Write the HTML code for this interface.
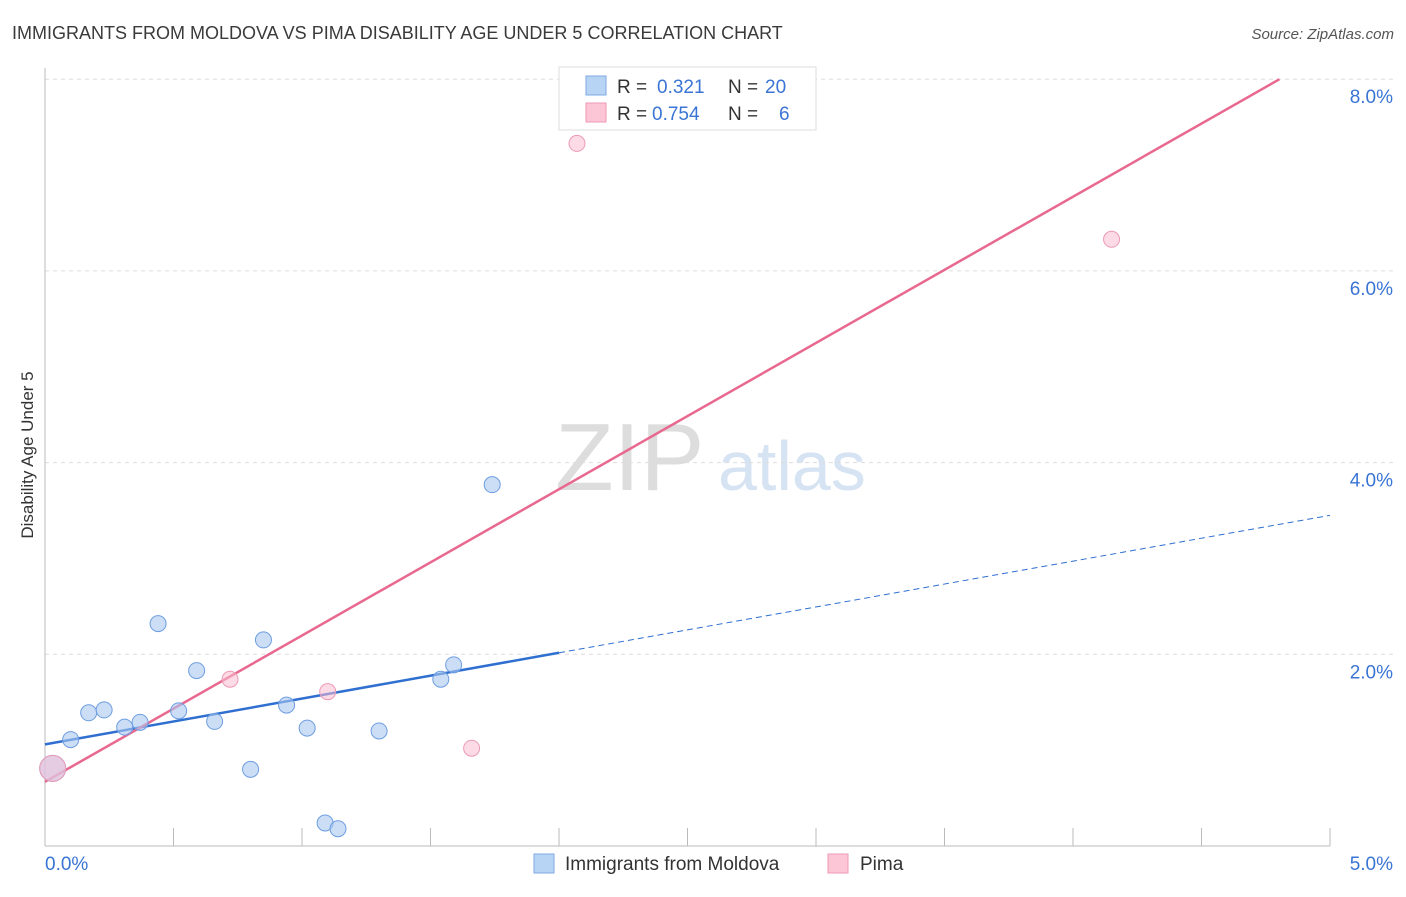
<!DOCTYPE html>
<html><head><meta charset="utf-8"><style>
body{margin:0;background:#fff;font-family:"Liberation Sans",sans-serif}
svg text{font-family:"Liberation Sans",sans-serif}
</style></head><body>
<svg id="chart" width="1406" height="892">
<text x="12" y="39" font-size="18" fill="#3a3a3a">IMMIGRANTS FROM MOLDOVA VS PIMA DISABILITY AGE UNDER 5 CORRELATION CHART</text>
<text x="1394" y="39" font-size="15" fill="#555" font-style="italic" text-anchor="end">Source: ZipAtlas.com</text>
<text x="33" y="455" font-size="17" fill="#333" transform="rotate(-90 33 455)" text-anchor="middle">Disability Age Under 5</text>
<g><text x="555" y="490" font-size="96" fill="#ddd" font-family="Liberation Serif">ZIP</text><text x="718" y="490" font-size="70" fill="#d6e3f3">atlas</text></g>
<g id="grid"></g><g id="axes"></g><g id="lines"></g><g id="pts"></g>
<g>
<rect x="559" y="67" width="257" height="63" fill="#fff" stroke="#ddd"/>
<rect x="586" y="76" width="20" height="19" fill="#b8d4f5" stroke="#7fa9e0"/>
<rect x="586" y="103" width="20" height="19" fill="#fcc6d6" stroke="#ef9ab4"/>
<text x="617" y="93" font-size="19" fill="#333">R = <tspan fill="#3a74d4" x="657">0.321</tspan><tspan fill="#333" x="728">N =</tspan><tspan fill="#3a74d4" x="765">20</tspan></text>
<text x="617" y="120" font-size="19" fill="#333">R = <tspan fill="#3a74d4" x="652">0.754</tspan><tspan fill="#333" x="728">N =</tspan><tspan fill="#3a74d4" x="779">6</tspan></text>
</g>
<g>
<rect x="534" y="854" width="20" height="19" fill="#b8d4f5" stroke="#7fa9e0"/>
<text x="565" y="870" font-size="19" fill="#333">Immigrants from Moldova</text>
<rect x="828" y="854" width="20" height="19" fill="#fcc6d6" stroke="#ef9ab4"/>
<text x="860" y="870" font-size="19" fill="#333">Pima</text>
</g>
</svg>
<script>
const blueX=[0.03,0.10,0.17,0.23,0.31,0.37,0.44,0.52,0.59,0.66,0.80,0.85,0.94,1.02,1.09,1.14,1.30,1.54,1.59,1.74];
const blueY=[0.81,1.11,1.39,1.42,1.24,1.29,2.32,1.41,1.83,1.30,0.80,2.15,1.47,1.23,0.24,0.18,1.20,1.74,1.89,3.77];
const pinkX=[0.03,0.72,1.10,1.66,2.07,4.15];
const pinkY=[0.81,1.74,1.61,1.02,7.33,6.33];
const yTicks=[2,4,6,8];
const xTickLabels=["0.0%","5.0%"];
const blueTrend=[1.06,3.45];
const pinkTrend=[0.67,8.30];
const NS="http://www.w3.org/2000/svg";
const sx=v=>45+v/5*1285, sy=v=>846-v*95.85;
function mk(p,t,a){const e=document.createElementNS(NS,t);for(const k in a)e.setAttribute(k,a[k]);document.getElementById(p).appendChild(e);return e;}
for(const t of yTicks){
 let g=mk('grid','line',{x1:45,x2:1393,y1:sy(t),y2:sy(t),stroke:'#ddd','stroke-dasharray':'4,4'});
 
 
 let l=mk('axes','text',{x:1393,y:sy(t)+24,'font-size':19,fill:'#3a74d4','text-anchor':'end'});l.textContent=t.toFixed(1)+'%';
 
 
}
let ax=mk('axes','line',{x1:45,x2:1330,y1:846,y2:846,stroke:'#bbb'});


let ay=mk('axes','line',{x1:45,x2:45,y1:68,y2:846,stroke:'#bbb'});


for(let i=1;i<=10;i++){let t=mk('axes','line',{x1:sx(i*0.5),x2:sx(i*0.5),y1:828,y2:846,stroke:'#bbb'});
 
 }
let x0=mk('axes','text',{x:45,y:870,'font-size':19,fill:'#3a74d4'});x0.textContent=xTickLabels[0];


let x1=mk('axes','text',{x:1393,y:870,'font-size':19,fill:'#3a74d4','text-anchor':'end'});x1.textContent=xTickLabels[1];


const bAt=x=>blueTrend[0]+(blueTrend[1]-blueTrend[0])*x/5;
let bl=mk('lines','line',{x1:sx(0),y1:sy(bAt(0)),x2:sx(2),y2:sy(bAt(2)),stroke:'#2f6fd0','stroke-width':2.5});


let bd=mk('lines','line',{x1:sx(2),y1:sy(bAt(2)),x2:sx(5),y2:sy(bAt(5)),stroke:'#2f6fd0','stroke-width':1,'stroke-dasharray':'6,4'});


const pAt=x=>pinkTrend[0]+(pinkTrend[1]-pinkTrend[0])*x/5;
const pxEnd=(8.0-pinkTrend[0])/(pinkTrend[1]-pinkTrend[0])*5;
let pl=mk('lines','line',{x1:sx(0),y1:sy(pAt(0)),x2:sx(pxEnd),y2:sy(8.0),stroke:'#e8688f','stroke-width':2.5});


blueX.forEach((x,i)=>{let c=mk('pts','circle',{cx:sx(x),cy:sy(blueY[i]),r:i==0?13:8,fill:'rgba(170,200,240,0.6)',stroke:'#6d9de0','stroke-width':1});
 
 });
pinkX.forEach((x,i)=>{let c=mk('pts','circle',{cx:sx(x),cy:sy(pinkY[i]),r:i==0?13:8,fill:'rgba(250,190,210,0.55)',stroke:'#ec9ab5','stroke-width':1});
 
 });
</script>
</body></html>
